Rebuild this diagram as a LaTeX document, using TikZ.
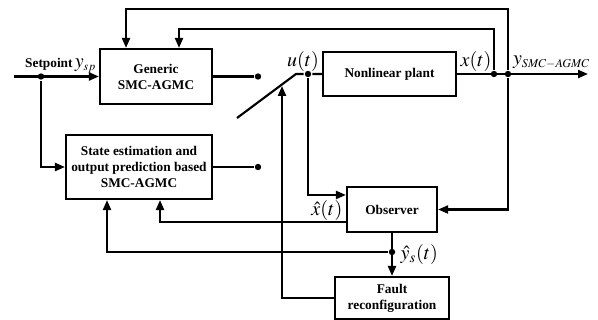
\documentclass[tikz,border=0pt]{standalone}
\usepackage{mathptmx}
\usepackage{fontspec}
\setmainfont{Liberation Serif}
\usetikzlibrary{arrows.meta}

\tikzset{every picture/.style={line width=1.6pt}}
\tikzset{
  blockbox/.style={draw, line width=1.6pt, align=center, font=\bfseries, inner sep=1pt},
  arr/.style={-{Triangle[length=7.5pt,width=6pt]}},
  joint/.style={circle, fill, inner sep=0pt, minimum size=4.8pt}
}

\begin{document}
\begin{tikzpicture}[x=0.75pt,y=0.75pt,yscale=-1,xscale=1]
\useasboundingbox (0,0) rectangle (598,320);

%Shape: Blocks
\node[blockbox, minimum width=84pt, minimum height=41.25pt] (generic) at (156,76.5) {Generic\\SMC-AGMC};
\node[blockbox, minimum width=109.5pt, minimum height=48pt] (state) at (139,167) {State estimation and\\output prediction based\\SMC-AGMC};
\node[blockbox, minimum width=99.75pt, minimum height=33pt] (plant) at (389.5,74) {Nonlinear plant};
\node[blockbox, minimum width=67.5pt, minimum height=33.75pt] (observer) at (392,209.5) {Observer};
\node[blockbox, minimum width=85.5pt, minimum height=31.5pt] (fault) at (392,298) {Fault\\reconfiguration};

%Joints and ends
\coordinate (in) at (14,76.5);
\node[joint] (sp) at (41,76.5) {};
\node[joint] (gout) at (258,76.5) {};
\node[joint] (sout) at (258,167) {};
\coordinate (sw0) at (237,118);
\coordinate (sw1) at (296,74);
\node[joint] (u) at (308,74) {};
\node[joint] (xdot) at (494,74) {};
\node[joint] (ydot) at (508,74) {};
\coordinate (out) at (588,74);
\node[joint] (ys) at (392,252) {};
\coordinate (fbin) at (179,29);
\coordinate (fbout) at (126,9);
\coordinate (swtip) at (282,86);

%Straight Lines
\draw[arr] (in) -- (generic.west);
\draw[arr] (sp) |- (state.west);
\draw (generic.east) -- (gout);
\draw (state.east) -- (sout);
\draw (sw0) -- (sw1) -- (u) -- (plant.west);
\draw[arr] (plant.east) -- (out);
\draw[arr] (xdot) |- (fbin) -- (fbin |- generic.north);
\draw[arr] (ydot) |- (fbout) -- (fbout |- generic.north);
\draw[arr] (ydot) |- (observer.east);
\draw[arr] (u) |- ([yshift=-10.9pt]observer.west);
\draw[arr] ([yshift=9.4pt]observer.west) -| ([xshift=15.75pt]state.south);
\draw[arr] (observer.south) -- (fault.north);
\draw[arr] (ys) -| ([xshift=-24pt]state.south);
\draw[arr] (fault.west) -| (swtip);

% Text Node
\node[anchor=south east, inner sep=0.75pt] (splabel) at (98,75) {\textbf{Setpoint}\,\fontsize{15}{16}\selectfont$y_{\scriptscriptstyle sp}$};
% Text Node
\node[inner sep=0.75pt, font=\fontsize{15}{16}\selectfont] (ulabel) at (303,62) {$u(t)$};
% Text Node
\node[inner sep=0.75pt, font=\fontsize{15}{16}\selectfont] (xlabel) at (476,62) {$x(t)$};
% Text Node
\node[anchor=west, inner sep=0.75pt, font=\fontsize{15}{16}\selectfont] (ylabel) at (511,62) {$y_{\scriptscriptstyle SMC-AGMC}$};
% Text Node
\node[anchor=east, inner sep=0.5pt, font=\fontsize{15}{16}\selectfont] (xhlabel) at (344,210) {$\hat{x}(t)$};
% Text Node
\node[anchor=west, inner sep=0.5pt, font=\fontsize{15}{16}\selectfont] (yhlabel) at (399,254) {$\hat{y}_s(t)$};

\end{tikzpicture}
\end{document}
